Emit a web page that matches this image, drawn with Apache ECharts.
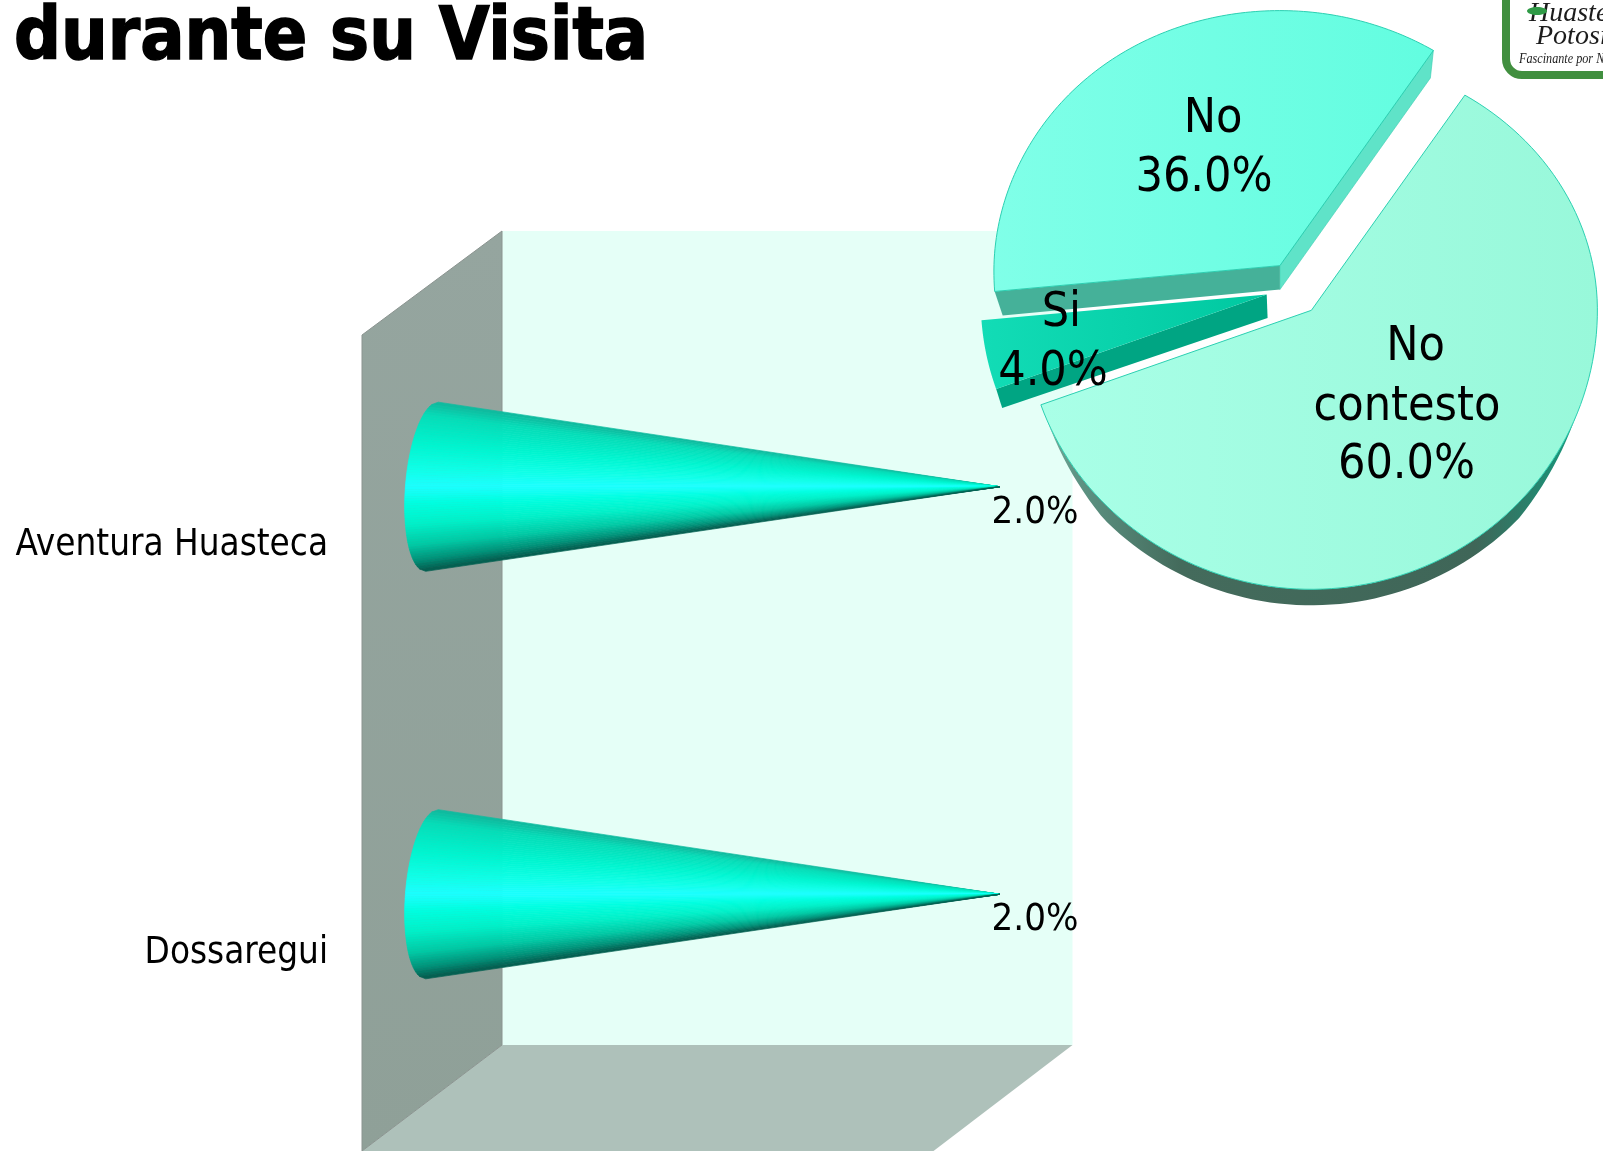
<!DOCTYPE html>
<html>
<head>
<meta charset="utf-8">
<style>html,body{margin:0;padding:0;background:#fff;overflow:hidden}#c{width:1603px;height:1151px}</style>
<script src="https://cdn.jsdelivr.net/npm/echarts@6/dist/echarts.min.js"></script>
</head>
<body>
<div id="c"></div>
<script>
// ---- data ----
const titleText = 'durante su Visita';
const barCategories = ['Aventura Huasteca', 'Dossaregui'];
const barValues = [2.0, 2.0];
const pieCategories = ['No contesto', 'Si', 'No'];
const pieValues = [60, 4, 36];

// ---- styling and layout (no data) ----
const FONT = '"DejaVu Sans Condensed","Noto Sans",sans-serif';
const pieStartAngle = 54.5;
const pieRx = 286, pieRyUp = 255, pieRyDown = 279;
const sliceStyles = [
  { cx: 1311.4, cy: 310.3, fill: ['#a9ffe7', '#98f8da'],
    lines: [[1415.5, 348], [1407, 408], [1406.5, 465.5]] },
  { cx: 1266.7, cy: 294.5, fill: ['#12dcb6', '#00c8a0'], side: '#00a583',
    lines: [[1061.4, 314], [1053, 372.6]] },
  { cx: 1279.9, cy: 265.6, fill: ['#80ffe8', '#62fde0'], sideA: '#5fe3c8', sideB: '#45b199',
    lines: [[1213, 120], [1204, 179]] }
];
const coneStops = [
  [-1, [16, 184, 156]], [-.85, [6, 220, 184]], [-.5, [0, 245, 208]], [-.2, [16, 255, 232]],
  [0, [28, 255, 255]], [.2, [0, 255, 224]], [.45, [0, 240, 200]], [.7, [0, 200, 164]],
  [.88, [0, 144, 120]], [1, [5, 90, 76]]
];

function coneColor(s) {
  for (let i = 1; i < coneStops.length; i++) {
    if (s <= coneStops[i][0]) {
      const a = coneStops[i - 1], b = coneStops[i], t = (s - a[0]) / (b[0] - a[0]);
      return 'rgb(' + a[1].map((v, k) => Math.round(v + (b[1][k] - v) * t)).join(',') + ')';
    }
  }
  return 'rgb(5,90,76)';
}

function renderCone(params, api) {
  const tip = api.coord([api.value(0), api.value(1)]);
  const zero = api.coord([0, api.value(1)]);
  const h = api.size([0, 1])[1] * 0.2076;
  const base = s => [zero[0] - 6.3 * s - 26.6 * Math.sqrt(Math.max(0, 1 - s * s)), zero[1] + h * s];
  const N = 70, children = [];
  for (let i = 0; i < N; i++) {
    const s0 = -1 + 2 * i / N, s1 = -1 + 2 * (i + 1) / N, c = coneColor((s0 + s1) / 2);
    children.push({
      type: 'polygon',
      shape: { points: [tip, base(s0), base(s1)] },
      style: { fill: c, stroke: c, lineWidth: 0.7 }
    });
  }
  children.push({
    type: 'text', z2: 20,
    style: {
      text: api.value(0).toFixed(1) + '%', x: tip[0] + 35, y: tip[1] + 26,
      font: '38px ' + FONT, fill: '#000', align: 'center', verticalAlign: 'middle'
    }
  });
  return { type: 'group', children };
}

// point on the slightly flattened disc, angle in degrees measured counter-clockwise;
// the left side droops a little, as it does in the reference's perspective
function discPoint(st, deg) {
  const a = deg * Math.PI / 180, c = Math.cos(a), s = Math.sin(a);
  const ry = s > 0 ? pieRyUp : pieRyDown;
  const r = 1 / Math.sqrt((c / pieRx) * (c / pieRx) + (s / ry) * (s / ry));
  const droop = c < 0 ? 5.5 * Math.pow(-c, 6) : 0;
  return [st.cx + r * c, st.cy - r * s + droop];
}

function renderSlice(params, api) {
  const i = params.dataIndex, st = sliceStyles[i];
  const total = pieValues.reduce((a, b) => a + b, 0);
  const done = pieValues.slice(0, i).reduce((a, b) => a + b, 0);
  const a0 = pieStartAngle - done / total * 360;
  const a1 = a0 - api.value(0) / total * 360;
  const top = [[st.cx, st.cy]], steps = 120;
  for (let k = 0; k <= steps; k++) top.push(discPoint(st, a0 + (a1 - a0) * k / steps));
  const first = top[1], last = top[top.length - 1];
  const children = [];

  if (i === 0) {
    const rim = [];
    for (let k = 0; k <= steps; k++) {
      const d = a0 + (a1 - a0) * k / steps, p = discPoint(st, d);
      const sn = Math.abs(Math.sin(d * Math.PI / 180));
      const below = Math.sin(d * Math.PI / 180) < 0;
      const t = below ? Math.min(1, Math.max(0, (sn - 0.38) / 0.3)) : 0;
      rim.push([p[0], p[1] + 16 * t]);
    }
    const tail = [];
    for (let k = steps; k >= 0; k--) tail.push(discPoint(st, a0 + (a1 - a0) * k / steps));
    children.push({
      type: 'polygon', z2: 1,
      shape: { points: rim.concat(tail) },
      style: {
        fill: new echarts.graphic.LinearGradient(0, 0, 1, 0, [
          { offset: 0, color: '#7ab5a4' }, { offset: .06, color: '#5e9585' }, { offset: .25, color: '#446b5c' },
          { offset: .78, color: '#3f6658' }, { offset: .92, color: '#1f8d74' }, { offset: 1, color: '#14a886' }
        ])
      }
    });
  } else if (i === 1) {
    // first = lower corner of this slice
    children.push({
      type: 'polygon', z2: 1,
      shape: { points: [[st.cx, st.cy], [st.cx + .9, st.cy + 23.5], [first[0] + 6, first[1] + 19], first] },
      style: { fill: st.side }
    });
  } else {
    // first = left corner, last = upper right corner
    children.push({
      type: 'polygon', z2: 1,
      shape: { points: [[st.cx, st.cy], last, [last[0] - 3, last[1] + 27.6], [st.cx, st.cy + 24]] },
      style: { fill: st.sideA, stroke: '#35cdb0', lineWidth: .6 }
    });
    children.push({
      type: 'polygon', z2: 2,
      shape: { points: [[st.cx, st.cy], first, [first[0] + 8, first[1] + 24], [st.cx, st.cy + 24]] },
      style: { fill: st.sideB }
    });
  }

  children.push({
    type: 'polygon', z2: 3,
    shape: { points: top },
    style: {
      fill: new echarts.graphic.LinearGradient(0, 0, 1, 0, [
        { offset: 0, color: st.fill[0] }, { offset: 1, color: st.fill[1] }
      ]),
      stroke: '#2cd0b2', lineWidth: i === 1 ? 0 : 1
    }
  });

  const words = pieCategories[i].split(' ').concat([api.value(0).toFixed(1) + '%']);
  words.forEach((w, k) => {
    children.push({
      type: 'text', z2: 50,
      style: {
        text: w, x: st.lines[k][0], y: st.lines[k][1],
        font: '48px ' + FONT, fill: '#000', align: 'center', verticalAlign: 'middle'
      }
    });
  });
  return { type: 'group', children };
}

const chart = echarts.init(document.getElementById('c'), null, { renderer: 'canvas', width: 1603, height: 1151 });
chart.setOption({
  animation: false,
  backgroundColor: '#fff',
  title: {
    text: titleText, left: 9, top: -1,
    textStyle: { color: '#000', fontFamily: FONT, fontWeight: 'bold', fontSize: 73, textBorderColor: '#000', textBorderWidth: 1.5 }
  },
  grid: { left: 432, top: 283, width: 568, height: 815 },
  xAxis: { type: 'value', min: 0, max: 2, show: false },
  yAxis: {
    type: 'category', inverse: true, data: barCategories,
    axisLine: { show: false }, axisTick: { show: false }, splitLine: { show: false },
    axisLabel: { margin: 104, color: '#000', fontFamily: FONT, fontSize: 36.5, verticalAlign: 'top', lineHeight: 118 }
  },
  graphic: [
    { type: 'polygon', z: 0, shape: { points: [[502, 231], [1072.5, 231], [1072.5, 1045], [502, 1045]] }, style: { fill: '#e5fff7' } },
    { type: 'polygon', z: 0, shape: { points: [[502, 1045], [1072.5, 1045], [933.5, 1151], [362, 1151]] }, style: { fill: '#aec1ba' } },
    { type: 'polygon', z: 0, shape: { points: [[362, 335], [502, 231], [502, 1045], [362, 1151]] },
      style: {
        fill: new echarts.graphic.LinearGradient(0, 0, 0, 1, [{ offset: 0, color: '#95a59f' }, { offset: 1, color: '#8fa098' }]),
        stroke: '#8b9490', lineWidth: 1
      } },
    // logo, top right
    { type: 'rect', z: 0, shape: { x: 1506, y: -30, width: 130, height: 105, r: 16 }, style: { fill: '#fff', stroke: '#418f3f', lineWidth: 8 } },
    { type: 'text', z: 1, style: { text: 'Huasteca', x: 1529, y: 28, font: 'italic 28px "Liberation Serif"', fill: '#1c1c1c', verticalAlign: 'bottom' } },
    { type: 'text', z: 1, style: { text: 'Potosina', x: 1536, y: 51, font: 'italic 28px "Liberation Serif"', fill: '#1c1c1c', verticalAlign: 'bottom' } },
    { type: 'text', z: 1, x: 1519, y: 66, scaleX: 0.87, style: { text: 'Fascinante por Naturaleza', x: 0, y: 0, font: 'italic 14px "Liberation Serif"', fill: '#1c1c1c', verticalAlign: 'bottom' } },
    { type: 'ellipse', z: 2, shape: { cx: 1537, cy: 11, rx: 10, ry: 4 }, style: { fill: '#2f9a46' } }
  ],
  series: [
    {
      type: 'custom', name: 'Bars', coordinateSystem: 'cartesian2d', z: 3,
      encode: { x: 0, y: 1 },
      data: barValues.map((v, i) => [v, i]),
      renderItem: renderCone
    },
    {
      type: 'custom', name: 'Pie', coordinateSystem: 'none', z: 4,
      data: pieValues.map(v => [v]),
      renderItem: renderSlice
    }
  ]
});
</script>
</body>
</html>
